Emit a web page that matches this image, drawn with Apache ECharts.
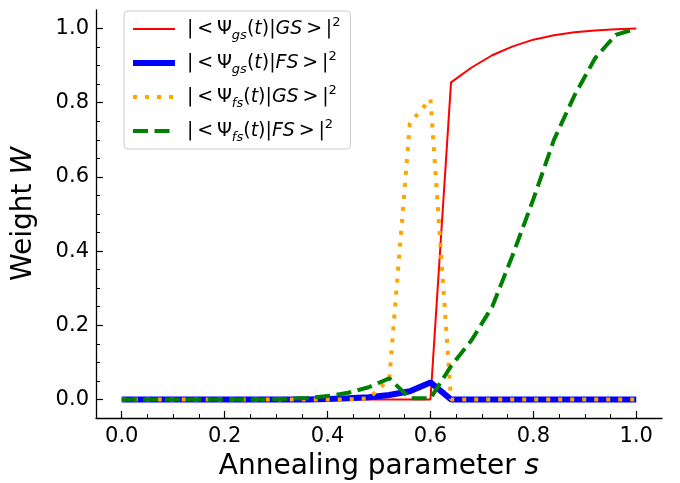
<!DOCTYPE html>
<html>
<head>
<meta charset="utf-8">
<script src="https://cdn.jsdelivr.net/npm/echarts@6/dist/echarts.min.js"></script>
<style>
  html, body { margin: 0; padding: 0; background: #fff; }
  #chart { width: 680px; height: 483px; }
</style>
</head>
<body>
<div id="chart"></div>
<script>
// annealing parameter s, step 0.04
const sVals = [0, 0.04, 0.08, 0.12, 0.16, 0.2, 0.24, 0.28, 0.32, 0.36, 0.4, 0.44, 0.48,
  0.52, 0.56, 0.6, 0.64, 0.68, 0.72, 0.76, 0.8, 0.84, 0.88, 0.92, 0.96, 1.0];

// |<psi_gs(t)|GS>|^2
const gsGS = [0, 0, 0, 0, 0, 0, 0, 0, 0, 0, 0, 0, 0, 0, 0, 0,
  0.855, 0.895, 0.928, 0.952, 0.970, 0.982, 0.990, 0.995, 0.998, 1.0];
// |<psi_gs(t)|FS>|^2
const gsFS = [0, 0, 0, 0, 0, 0, 0, 0, 0, 0, 0.001, 0.003, 0.006, 0.012, 0.022, 0.046,
  0, 0, 0, 0, 0, 0, 0, 0, 0, 0];
// |<psi_fs(t)|GS>|^2
const fsGS = [0, 0, 0, 0, 0, 0, 0, 0, 0, 0, 0, 0, 0.003, 0.055, 0.745, 0.81,
  0, 0, 0, 0, 0, 0, 0, 0, 0, 0];
// |<psi_fs(t)|FS>|^2
const fsFS = [0, 0, 0, 0, 0, 0, 0, 0, 0.002, 0.004, 0.009, 0.018, 0.033, 0.057, 0.003, 0.003,
  0.09, 0.16, 0.25, 0.39, 0.54, 0.70, 0.82, 0.92, 0.983, 1.0];

const majorTicks = [0, 0.2, 0.4, 0.6, 0.8, 1.0];
const minorTicks = [0.05, 0.1, 0.15, 0.25, 0.3, 0.35, 0.45, 0.5, 0.55, 0.65, 0.7, 0.75, 0.85, 0.9, 0.95];

// thin spaces round < and >, like mathtext
const legendText = {
  gsGS: '{n||\u2009<\u2009Ψ}{sub|gs}{n|(}{i|t}{n|)|}{i|GS}{n|\u2009>\u2009|}{sup|2}',
  gsFS: '{n||\u2009<\u2009Ψ}{sub|gs}{n|(}{i|t}{n|)|}{i|FS}{n|\u2009>\u2009|}{sup|2}',
  fsGS: '{n||\u2009<\u2009Ψ}{sub|fs}{n|(}{i|t}{n|)|}{i|GS}{n|\u2009>\u2009|}{sup|2}',
  fsFS: '{n||\u2009<\u2009Ψ}{sub|fs}{n|(}{i|t}{n|)|}{i|FS}{n|\u2009>\u2009|}{sup|2}'
};

const font = 'DejaVu Sans';
const pairs = (ys) => sVals.map((s, i) => [s, ys[i]]);

const chart = echarts.init(document.getElementById('chart'), null, {renderer: 'canvas'});

const axisBase = {
  type: 'value',
  min: -0.05,
  max: 1.05,
  splitLine: {show: false},
  axisLine: {show: true, onZero: false, lineStyle: {color: '#000', width: 1.3}},
};

const nameRich = {
  n: {fontFamily: font, fontSize: 28, color: '#000'},
  i: {fontFamily: font, fontSize: 28, fontStyle: 'italic', color: '#000'}
};

const option = {
  animation: false,
  backgroundColor: '#fff',
  grid: {left: 96, right: 18, top: 10, bottom: 65, outerBoundsMode: 'none'},
  legend: {
    orient: 'vertical',
    left: 124,
    top: 11,
    padding: [5, 10, 5, 6],
    itemGap: 8,
    itemWidth: 42,
    itemHeight: 14,
    borderColor: '#cccccc',
    borderWidth: 1,
    borderRadius: 4,
    itemStyle: {opacity: 0},
    lineStyle: {width: 'inherit', type: 'inherit'},
    formatter: (name) => legendText[name],
    textStyle: {
      padding: [0, 0, 0, 7],
      rich: {
        n: {fontFamily: font, fontSize: 19, color: '#000', lineHeight: 26},
        i: {fontFamily: font, fontSize: 19, fontStyle: 'italic', color: '#000', lineHeight: 26},
        sub: {fontFamily: font, fontSize: 13, fontStyle: 'italic', color: '#000', lineHeight: 14, verticalAlign: 'bottom'},
        sup: {fontFamily: font, fontSize: 13, color: '#000', lineHeight: 14, verticalAlign: 'top'}
      }
    }
  },
  xAxis: [
    Object.assign({}, axisBase, {
      position: 'bottom',
      name: '{n|Annealing parameter }{i|s}',
      nameLocation: 'middle',
      nameGap: 35,
      nameTextStyle: {verticalAlign: 'top', rich: nameRich},
      axisTick: {show: true, inside: true, length: 7, customValues: majorTicks, lineStyle: {color: '#000', width: 1.2}},
      axisLabel: {
        customValues: majorTicks,
        margin: 8,
        fontFamily: font, fontSize: 21, color: '#000',
        formatter: (v) => v.toFixed(1)
      }
    }),
    Object.assign({}, axisBase, {
      position: 'bottom',
      axisLine: {show: false, onZero: false},
      axisTick: {show: true, inside: true, length: 4, customValues: minorTicks, lineStyle: {color: '#000', width: 1}},
      axisLabel: {show: false}
    })
  ],
  yAxis: [
    Object.assign({}, axisBase, {
      position: 'left',
      name: '{n|Weight }{i|W}',
      nameLocation: 'middle',
      nameGap: 58,
      nameTextStyle: {rich: nameRich},
      axisTick: {show: true, inside: true, length: 7, customValues: majorTicks, lineStyle: {color: '#000', width: 1.2}},
      axisLabel: {
        customValues: majorTicks,
        margin: 7,
        fontFamily: font, fontSize: 21, color: '#000',
        formatter: (v) => v.toFixed(1)
      }
    }),
    Object.assign({}, axisBase, {
      position: 'left',
      axisLine: {show: false, onZero: false},
      axisTick: {show: true, inside: true, length: 4, customValues: minorTicks, lineStyle: {color: '#000', width: 1}},
      axisLabel: {show: false}
    })
  ],
  series: [
    {
      name: 'gsGS', type: 'line', data: pairs(gsGS), symbol: 'none', z: 2,
      color: '#ff0000',
      lineStyle: {color: '#ff0000', width: 2}
    },
    {
      name: 'gsFS', type: 'line', data: pairs(gsFS), symbol: 'none', z: 3,
      color: '#0000ff',
      lineStyle: {color: '#0000ff', width: 6}
    },
    {
      name: 'fsGS', type: 'line', data: pairs(fsGS), symbol: 'none', z: 4,
      color: '#ffa500',
      lineStyle: {color: '#ffa500', width: 4, type: [4, 8]}
    },
    {
      name: 'fsFS', type: 'line', data: pairs(fsFS), symbol: 'none', z: 5,
      color: '#008000',
      lineStyle: {color: '#008000', width: 4, type: [15, 6.5]}
    }
  ]
};

chart.setOption(option);
</script>
</body>
</html>
